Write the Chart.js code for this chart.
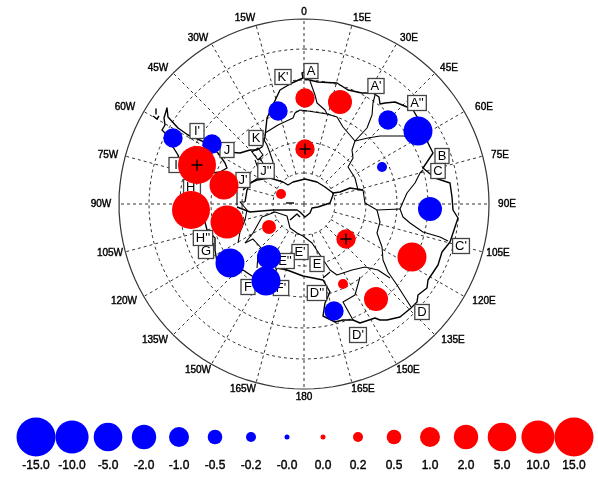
<!DOCTYPE html>
<html><head><meta charset="utf-8">
<style>html,body{margin:0;padding:0;background:#fff}canvas{display:block}</style>
<script src="https://cdn.jsdelivr.net/npm/chart.js@4"></script>
</head><body><canvas id="c" width="598" height="498"></canvas>
<script>
// ---- values (map units, origin top-left of the figure)
const pole = [304, 204];
const ringRadii = [31, 62, 93, 124, 155, 185];
const meridians = [0,15,30,45,60,75,90,105,120,135,150,165,180,195,210,225,240,255,270,285,300,315,330,345];

const lonLabels = ["0","15E","30E","45E","60E","75E","90E","105E","120E","135E","150E","165E","180","165W","150W","135W","120W","105W","90W","75W","60W","45W","30W","15W"];
const lonLabelX = [304,362,409,449,484,500,507,498,484,453,408,363,304,243,198,155,124,110,101,108,125,158,198,245];
const lonLabelY = [12,18,38,68,107,155,204,253,301,340,370,389,397,389,370,340,301,253,204,155,107,68,38,18];

const basinLabels = ["A","A'","A''","B","C","C'","D","D'","D''","E","E'","E''","F","F'","G","H'","H''","I","I'","J","J'","J''","K","K'"];
const basinLabelX = [311,376,417,442,438,461,422,358,317,317,300,285,248,281,206,192,203,176,197,227,243,266,256,283];
const basinLabelY = [71,86,103,156,171,246,312,335,293,264,252,261,287,288,251,187,238,165,131,150,180,171,138,77];

const bubbleX = [173,212,278,197,224,281,305,340,305,388,418,382,430,191,227,269,230,269,266,346,412,376,343,334];
const bubbleY = [138,144,111,165,185,194,98,102,149,120,131,167,209,210,222,227,263,257,281,239,257,299,284,311];
const bubbleV = [-1,-1,-1,15,5,0.2,1,2,1,-1,-5,-0.2,-2,15,10,0.5,-5,-2,-5,1,5,2,0.2,-1];
const plusX = [197,305,346];
const plusY = [165,149,239];

const legendValues = ["-15.0","-10.0","-5.0","-2.0","-1.0","-0.5","-0.2","-0.0","0.0","0.2","0.5","1.0","2.0","5.0","10.0","15.0"];
const legendX = [36,72,108,144,179,215,251,287,323,358,394,430,466,502,538,574];
const legendY = 437;
const legendLabelY = 466;
const legendSize = [19.5,16.6,14.3,12.2,10,7.3,5,2.5,2.5,5,7.3,10,12.2,14.3,16.6,19.5];

// grounding line / coast, clockwise from A
const coast = [[305,79],[318,82],[337,83],[348,90],[362,93],[373,93],[379,97],[380,104],[385,103],[395,102],[407,107],[413,110],[425,130],[428,143],[433,153],[423,168],[435,178],[450,183],[452,197],[453,210],[458,218],[453,233],[450,242],[442,252],[438,265],[428,280],[427,288],[418,295],[417,302],[411,308],[400,317],[387,320],[380,320],[375,318],[360,323],[353,320],[343,320],[335,322],[323,316],[325,303],[330,292],[323,280],[313,278],[303,276],[287,270],[277,268],[270,285],[255,278],[243,270],[232,275],[217,262],[215,250],[215,238],[207,230],[205,222],[200,205],[190,185],[182,170],[178,155],[173,147],[165,133],[162,130],[165,125],[164,118],[167,108],[168,117],[178,128],[188,135],[202,141],[218,153],[225,163],[227,168],[220,172],[212,173]];
const coastNorthWest = [[227,152],[240,153],[250,150],[257,150],[262,147],[265,137],[267,118],[272,107],[280,90],[285,87],[292,83],[303,78],[302,73],[305,72],[305,79]];
const iceFrontLeft = [[237,207],[250,212],[273,210],[297,210],[300,212],[305,217],[310,213],[312,208],[318,207],[330,203],[333,195],[333,193]];
const iceFrontUpper = [[245,202],[247,190],[250,183],[257,180],[270,178],[283,182],[288,185],[293,182],[305,179],[317,182],[325,187],[333,193],[340,192],[350,188],[363,190]];
const poleHook = [[290,220],[297,214],[300,217]];
const poleDash = [[286,203],[294,203]];
// divides between the basins
const divideA = [[310,81],[315,95],[317,103],[325,110],[327,114]];
const ridgeTop = [[265,133],[278,125],[293,118],[295,113],[300,110],[308,111],[327,114],[337,117],[343,127],[355,141]];
const divideAp = [[355,141],[367,128],[372,115],[373,103],[375,95]];
const divideAq = [[355,141],[368,138],[380,136],[395,136],[403,136],[425,138]];
const divideB = [[355,141],[352,150],[353,158],[348,167],[355,178],[358,190],[363,190],[365,203],[377,210],[400,209]];
const divideC = [[423,170],[420,173],[415,183],[407,193],[403,202],[400,209],[403,217],[410,223],[423,232],[440,237],[448,241]];
const divideD = [[377,210],[380,222],[377,233],[382,247],[383,260],[388,272],[397,285],[411,307]];
const divideE = [[245,243],[253,233],[262,217],[275,212],[287,216],[290,228],[297,233],[303,236],[312,243],[320,255],[330,270],[337,275],[352,270],[365,267],[378,270],[390,278]];
const divideDp = [[360,277],[355,295],[343,302],[353,320]];
const divideDq = [[323,278],[330,272]];
const divideF = [[245,243],[253,239],[263,250],[258,255],[257,268]];
const divideH = [[245,202],[240,202],[247,210],[245,220],[240,232],[238,243]];
const divideI = [[237,190],[237,205]];
const divideK = [[263,138],[267,145],[270,153],[273,162],[272,172],[273,178]];
const divideJa = [[252,152],[258,148],[263,155],[258,160],[252,152]];
const divideJb = [[255,160],[258,168],[264,165],[260,158]];
const divideJc = [[243,190],[252,182],[258,178],[262,167]];
const islandA = [[156,109],[156,114]];
const islandB = [[153,116],[157,119],[159,116]];

const coastLines = [coast,coastNorthWest,iceFrontLeft,iceFrontUpper,poleHook,poleDash,islandA,islandB];
const divideLines = [divideA,ridgeTop,divideAp,divideAq,divideB,divideC,divideD,divideE,divideDp,divideDq,divideF,divideH,divideI,divideK,divideJa,divideJb,divideJc];

// ---- styling and helpers
const RED = '#ff0000', BLUE = '#0000ff', INK = '#000000';
const sizeTable = {0.2:5,0.5:7,1:9.7,2:12,5:14.5,10:16.5,15:19};
const FONT = '"Liberation Sans", Arial, sans-serif';

function pts(list){ return list.map(p => ({x:p[0], y:p[1]})); }
function graticule(){
  const out = [];
  const grid = {type:'line',borderColor:'#333',borderWidth:1,borderDash:[3,3],pointRadius:0,tension:0,fill:false};
  ringRadii.forEach((r,i) => {
    const d = [];
    for(let a=0;a<=360;a+=3){ const t=a*Math.PI/180; d.push({x:pole[0]+r*Math.sin(t), y:pole[1]-r*Math.cos(t)}); }
    out.push(i===ringRadii.length-1 ? {...grid,data:d,borderDash:[],borderColor:'#333',borderWidth:1.2} : {...grid,data:d});
  });
  meridians.forEach(m => {
    const t=m*Math.PI/180, R=ringRadii[ringRadii.length-1], r0 = m%90===0 ? 0 : ringRadii[0];
    out.push({...grid,data:[{x:pole[0]+r0*Math.sin(t),y:pole[1]-r0*Math.cos(t)},{x:pole[0]+R*Math.sin(t),y:pole[1]-R*Math.cos(t)}]});
  });
  return out;
}
const lineStyle = w => ({type:'line',borderColor:INK,borderWidth:w,pointRadius:0,tension:0,fill:false,borderJoinStyle:'round'});

const bubbleSet = {
  type:'bubble', label:'bubbles', order:2,
  data: bubbleX.map((x,i)=>({x, y:bubbleY[i], r:sizeTable[Math.abs(bubbleV[i])]})),
  backgroundColor: bubbleV.map(v => v<0 ? BLUE : RED),
  borderWidth:0, hoverRadius:0
};
const legendSet = {
  type:'bubble', label:'legend', order:2,
  data: legendX.map((x,i)=>({x, y:legendY, r:legendSize[i]})),
  backgroundColor: legendValues.map(v => v[0]==='-'?BLUE:RED),
  borderWidth:0
};
const plusSet = {
  type:'scatter', label:'plus', order:1,
  data: plusX.map((x,i)=>({x,y:plusY[i]})),
  pointStyle:'cross', pointRadius:5.5, pointBorderColor:INK, pointBorderWidth:1.3, showLine:false
};

const base = [
  ...graticule().map(d=>({...d,order:10})),
  ...divideLines.map(l=>({...lineStyle(1.1),data:pts(l),order:5})),
  ...coastLines.map(l=>({...lineStyle(1.4),data:pts(l),order:4}))
];

const textPlugin = {
  id:'mapText',
  beforeDatasetDraw(chart,args){
    if(chart.data.datasets[args.index].label!=='bubbles') return;
    const {ctx,scales:{x,y}} = chart;
    ctx.save();
    ctx.textAlign='center'; ctx.textBaseline='middle';
    // basin tags sit under the bubbles
    ctx.font='13px '+FONT;
    basinLabels.forEach((t,i)=>{
      const px=x.getPixelForValue(basinLabelX[i]), py=y.getPixelForValue(basinLabelY[i]);
      const w=Math.max(14,ctx.measureText(t).width+5), h=15;
      ctx.fillStyle='#fff'; ctx.strokeStyle='#444'; ctx.lineWidth=1.3;
      ctx.fillRect(px-w/2,py-h/2,w,h); ctx.strokeRect(px-w/2,py-h/2,w,h);
      ctx.fillStyle=INK; ctx.fillText(t,px,py+0.5);
    });
    ctx.font='10px '+FONT; ctx.fillStyle=INK; ctx.strokeStyle=INK; ctx.lineWidth=0.4;
    lonLabels.forEach((t,i)=>{
      const px=x.getPixelForValue(lonLabelX[i]), py=y.getPixelForValue(lonLabelY[i]);
      ctx.fillText(t,px,py); ctx.strokeText(t,px,py);
    });
    ctx.font='12px '+FONT;
    legendValues.forEach((t,i)=>{
      const px=x.getPixelForValue(legendX[i]), py=y.getPixelForValue(legendLabelY);
      ctx.fillText(t,px,py); ctx.strokeText(t,px,py);
    });
    ctx.restore();
  }
};

new Chart(document.getElementById('c'),{
  type:'scatter',
  data:{datasets:[plusSet,bubbleSet,legendSet,...base]},
  plugins:[textPlugin],
  options:{
    responsive:false, animation:false, devicePixelRatio:1,
    layout:{padding:0, autoPadding:false},
    clip:false,
    events:[],
    plugins:{legend:{display:false},tooltip:{enabled:false},title:{display:false}},
    scales:{
      x:{type:'linear',min:0,max:598,display:false},
      y:{type:'linear',min:0,max:498,reverse:true,display:false}
    }
  }
});
</script></body></html>
